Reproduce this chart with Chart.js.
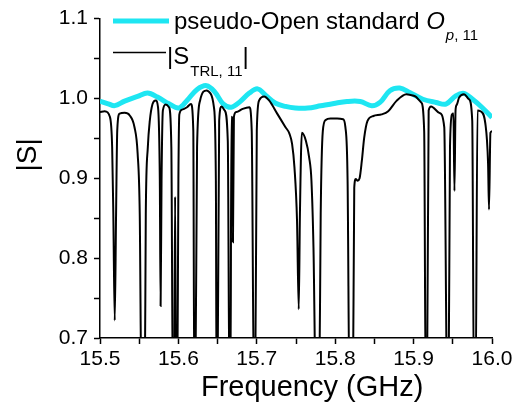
<!DOCTYPE html>
<html>
<head>
<meta charset="utf-8">
<script src="https://cdn.jsdelivr.net/npm/chart.js@4.4.1/dist/chart.umd.min.js"></script>
<style>
  body { margin: 0; background: #fff; }
</style>
</head>
<body>
<canvas id="myChart" width="532" height="405"></canvas>
<script>
// pseudo-Open standard O_p,11
const openFreq = [15.500, 15.5105, 15.5188, 15.5314, 15.548, 15.5607, 15.5733, 15.588, 15.6005, 15.611,
  15.6235, 15.636, 15.6466, 15.657, 15.6675, 15.678, 15.6905, 15.701, 15.7115, 15.724,
  15.7366, 15.749, 15.7647, 15.7815, 15.7983, 15.815, 15.832, 15.8466, 15.8571, 15.8697,
  15.8824, 15.895, 15.9118, 15.9286, 15.9412, 15.9538, 15.9643, 15.9748, 15.9874, 16.000];
const openVal = [0.9967, 0.9933, 0.991, 0.9967, 1.0025, 1.0067, 1.0017, 0.9933, 0.988, 0.9975,
  1.011, 1.016, 1.008, 0.9933, 0.989, 0.9954, 1.0067, 1.012, 1.0038, 0.994,
  0.99, 0.988, 0.9879, 0.9908, 0.9937, 0.9962, 0.9962, 0.9908, 0.995, 1.0096,
  1.013, 1.0075, 0.999, 0.995, 0.9929, 1.0033, 1.0063, 0.9992, 0.9887, 0.9762];

// |S_TRL,11|
const trlFreq = [15.500, 15.506, 15.5126, 15.5155, 15.517, 15.5188, 15.5205, 15.522, 15.525, 15.5314,
  15.5377, 15.544, 15.548, 15.5507, 15.553, 15.557, 15.5584, 15.561, 15.5635, 15.567,
  15.571, 15.574, 15.5763, 15.5773, 15.5785, 15.5802, 15.5838, 15.588, 15.591, 15.593,
  15.5945, 15.5958, 15.597, 15.5985, 15.6, 15.6012, 15.6047, 15.611, 15.616, 15.619,
  15.6203, 15.6215, 15.6238, 15.6277, 15.636, 15.6411, 15.6453, 15.6478, 15.6487, 15.6498,
  15.652, 15.655, 15.659, 15.663, 15.6652, 15.6664, 15.6676, 15.6686, 15.6696, 15.6708,
  15.6738, 15.682, 15.6905, 15.6935, 15.6965, 15.6978, 15.7, 15.703, 15.7094, 15.7157,
  15.726, 15.7366, 15.7416, 15.745, 15.748, 15.7513, 15.7535, 15.755, 15.7575, 15.7626,
  15.7668, 15.7697, 15.7723, 15.7755, 15.7795, 15.7815, 15.7842, 15.7878, 15.794, 15.8025,
  15.81, 15.813, 15.8158, 15.8183, 15.8225, 15.8243, 15.8262, 15.8286, 15.8311, 15.834,
  15.837, 15.8412, 15.8487, 15.8592, 15.8676, 15.8782, 15.8908, 15.9013, 15.9097, 15.9135,
  15.9155, 15.917, 15.9192, 15.9223, 15.9328, 15.9391, 15.943, 15.9445, 15.9464, 15.949,
  15.9508, 15.9521, 15.9535, 15.955, 15.958, 15.9643, 15.9706, 15.9748, 15.977, 15.979,
  15.9815, 15.9853, 15.9916, 15.995, 15.9962, 15.998, 16.000];
const trlVal = [0.983, 0.984, 0.977, 0.939, 0.855, 0.722, 0.855, 0.96, 0.981, 0.982,
  0.979, 0.964, 0.931, 0.855, 0.62, 0.62, 0.855, 0.939, 0.972, 0.993,
  0.9975, 0.989, 0.897, 0.74, 0.897, 0.985, 0.9925, 0.989, 0.939, 0.62,
  0.62, 0.877, 0.62, 0.62, 0.9, 0.98, 0.986, 0.989, 0.993, 0.96,
  0.62, 0.62, 0.939, 0.9975, 1.01, 1.006, 0.989, 0.897, 0.62, 0.62,
  0.972, 0.99, 0.985, 0.947, 0.62, 0.62, 0.977, 0.975, 0.82, 0.977,
  0.983, 0.987, 0.989, 0.96, 0.62, 0.62, 0.96, 0.9975, 1.0025, 0.9975,
  0.981, 0.964, 0.956, 0.943, 0.914, 0.847, 0.736, 0.855, 0.957, 0.947,
  0.926, 0.897, 0.813, 0.62, 0.62, 0.855, 0.959, 0.973, 0.975, 0.975,
  0.974, 0.964, 0.897, 0.62, 0.62, 0.888, 0.899, 0.897, 0.9, 0.922,
  0.951, 0.972, 0.978, 0.98, 0.984, 0.997, 1.0054, 1.003, 0.995, 0.959,
  0.62, 0.62, 0.985, 0.99, 0.982, 0.964, 0.62, 0.62, 0.938, 0.98,
  0.981, 0.884, 0.985, 0.992, 1.001, 1.0054, 0.999, 0.972, 0.62, 0.62,
  0.985, 0.984, 0.968, 0.918, 0.861, 0.957, 0.959];

const xTickLabels = ["15.5", "15.6", "15.7", "15.8", "15.9", "16.0"];
const yTickLabels = ["0.7", "0.8", "0.9", "1.0", "1.1"];

const cyan = "#1ee6f2";
const FONT = "'Liberation Sans', Arial, sans-serif";
Chart.defaults.font.family = FONT;
Chart.defaults.color = "#000";

function toPoints(xs, ys) {
  return xs.map((x, i) => ({ x: x, y: ys[i] }));
}

function labelFrom(list) {
  return (v) => {
    const s = Number(v).toFixed(1);
    return Math.abs(v * 10 - Math.round(v * 10)) < 1e-6 && list.includes(s) ? s : "";
  };
}

// legend with subscripts, drawn top left inside the plot
const subLegend = {
  id: "subLegend",
  afterDraw(chart) {
    const ctx = chart.ctx;
    const sets = chart.data.datasets;
    ctx.save();
    ctx.textBaseline = "alphabetic";
    ctx.fillStyle = "#000";

    // row 1
    ctx.strokeStyle = sets[0].borderColor;
    ctx.lineWidth = sets[0].borderWidth;
    ctx.beginPath();
    ctx.moveTo(113, 21);
    ctx.lineTo(169, 21);
    ctx.stroke();
    let x = 174;
    ctx.font = "24px " + FONT;
    ctx.fillText("pseudo-Open standard ", x, 29);
    x += ctx.measureText("pseudo-Open standard ").width;
    ctx.font = "italic 24px " + FONT;
    ctx.fillText("O", x, 29);
    x += ctx.measureText("O").width + 1;
    ctx.font = "italic 15px " + FONT;
    ctx.fillText("p", x, 40);
    x += ctx.measureText("p").width;
    ctx.font = "15px " + FONT;
    ctx.fillText(", 11", x, 40);

    // row 2
    ctx.strokeStyle = sets[1].borderColor;
    ctx.lineWidth = 1.5;
    ctx.beginPath();
    ctx.moveTo(113, 52.5);
    ctx.lineTo(166, 52.5);
    ctx.stroke();
    x = 167;
    ctx.font = "24px " + FONT;
    ctx.fillText("|S", x, 63.5);
    x += ctx.measureText("|S").width + 1;
    ctx.font = "15px " + FONT;
    ctx.fillText("TRL, 11", x, 76);
    x += ctx.measureText("TRL, 11").width;
    ctx.font = "24px " + FONT;
    ctx.fillText("|", x, 63.5);
    ctx.restore();
  }
};

new Chart("myChart", {
  type: "line",
  data: {
    datasets: [
      {
        label: "pseudo-Open standard Op, 11",
        data: toPoints(openFreq, openVal),
        borderColor: cyan,
        borderWidth: 5,
        pointRadius: 0,
        tension: 0.35,
        order: 1,
      },
      {
        label: "|STRL, 11|",
        data: toPoints(trlFreq, trlVal),
        borderColor: "#000",
        borderWidth: 2,
        pointRadius: 0,
        cubicInterpolationMode: "monotone",
        order: 0,
      },
    ],
  },
  options: {
    responsive: false,
    animation: false,
    layout: { padding: { left: 0, right: 40, top: 18, bottom: 0 } },
    plugins: {
      legend: { display: false },
      tooltip: { enabled: false },
    },
    scales: {
      x: {
        type: "linear",
        min: 15.5,
        max: 16.0,
        afterFit: (s) => { s.height = 67; },
        ticks: {
          stepSize: 0.05,
          autoSkip: false,
          maxRotation: 0,
          padding: 3,
          font: { size: 21 },
          callback: labelFrom(xTickLabels),
        },
        grid: { drawOnChartArea: false, tickLength: 6, tickColor: "#000", tickWidth: 1.5 },
        border: { color: "#000", width: 1.5 },
        title: {
          display: true,
          text: "    Frequency (GHz)",
          font: { size: 29 },
          padding: { top: 0, bottom: 0 },
        },
      },
      y: {
        min: 0.7,
        max: 1.1,
        afterFit: (s) => { s.width = 100; },
        ticks: {
          stepSize: 0.05,
          autoSkip: false,
          padding: 6,
          font: { size: 21 },
          callback: labelFrom(yTickLabels),
        },
        grid: { drawOnChartArea: false, tickLength: 6, tickColor: "#000", tickWidth: 1.5 },
        border: { color: "#000", width: 1.5 },
        title: {
          display: true,
          text: "      |S|",
          font: { size: 28 },
          padding: { top: 11, bottom: 0 },
        },
      },
    },
  },
  plugins: [subLegend],
});
</script>
</body>
</html>
